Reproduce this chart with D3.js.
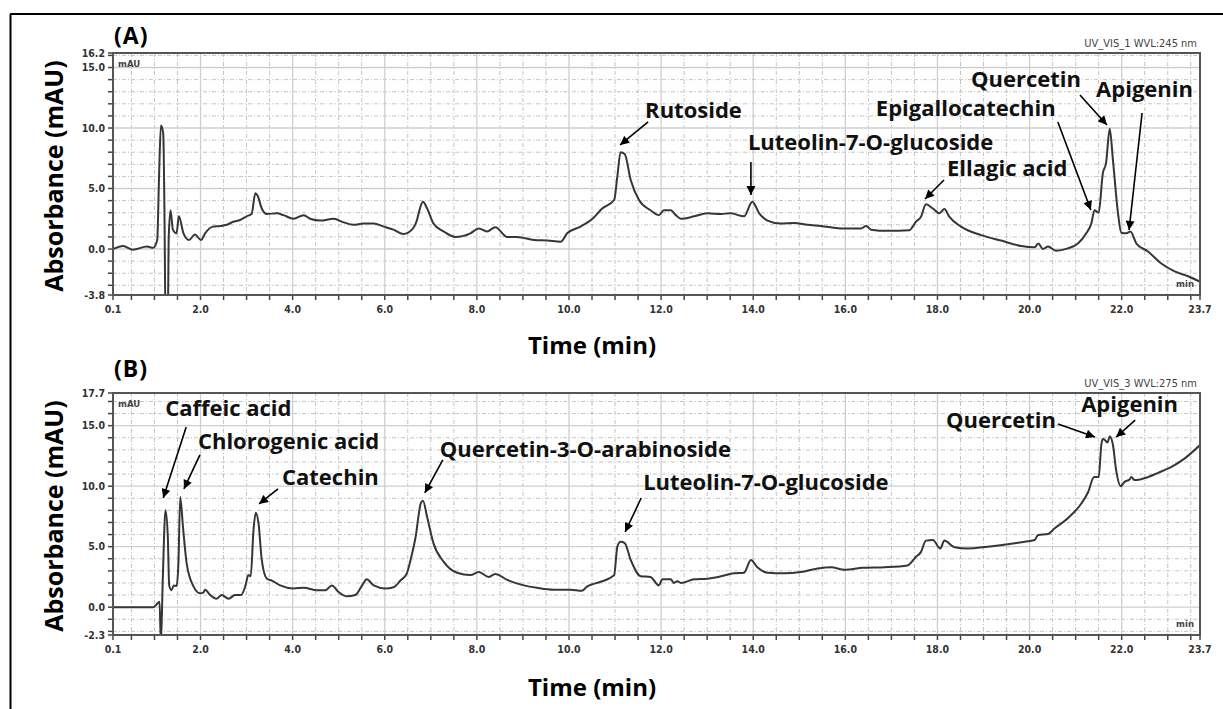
<!DOCTYPE html>
<html><head><meta charset="utf-8">
<script src="https://cdn.jsdelivr.net/npm/d3@7"></script>
<style>body{margin:0;background:#fff}svg{display:block}</style>
</head><body>
<svg id="chart" width="1223" height="709"></svg>
<script>
// ---------- DATA ----------
const timeA = [0.10,0.32,0.53,0.84,0.97,1.06,1.10,1.14,1.19,1.22,1.24,1.29,1.31,1.35,1.40,1.48,1.53,1.63,1.75,1.88,2.01,2.10,2.27,2.43,2.57,2.71,2.86,3.00,3.11,3.19,3.24,3.33,3.44,3.66,3.80,4.02,4.24,4.38,4.60,4.89,5.11,5.32,5.54,5.76,5.98,6.19,6.41,6.59,6.70,6.76,6.83,6.92,7.06,7.28,7.53,7.86,8.04,8.22,8.40,8.66,8.87,9.24,9.53,9.82,9.96,10.25,10.51,10.72,10.98,11.05,11.12,11.21,11.34,11.52,11.77,11.95,12.06,12.21,12.32,12.43,12.72,13.00,13.30,13.51,13.80,13.98,14.13,14.31,14.60,14.89,15.18,15.47,15.90,16.34,16.45,16.56,16.92,17.39,17.53,17.64,17.75,17.90,18.04,18.15,18.26,18.51,18.95,19.38,19.82,20.11,20.19,20.29,20.40,20.58,20.83,21.05,21.23,21.34,21.41,21.50,21.59,21.66,21.74,21.81,21.92,21.99,22.10,22.19,22.32,22.57,22.86,23.15,23.44,23.70];
const absA  = [0.0,0.25,-0.05,0.2,0.1,0.75,6.0,10.2,9.6,2.0,-6.0,-6.0,1.0,3.2,1.6,1.3,2.7,1.3,0.75,1.2,0.75,1.3,1.85,1.9,2.0,2.25,2.4,2.7,2.9,4.6,4.4,3.35,2.9,2.95,2.8,2.5,2.8,2.5,2.35,2.5,2.2,2.0,2.1,2.1,1.85,1.6,1.25,1.6,2.4,3.3,3.9,3.35,2.1,1.45,1.0,1.3,1.7,1.45,1.8,1.0,1.0,0.75,0.7,0.6,1.3,1.85,2.5,3.35,4.05,6.0,8.0,7.85,5.7,4.05,3.2,2.8,3.2,3.2,2.8,2.5,2.7,2.95,2.9,2.95,2.7,3.9,2.95,2.35,2.1,2.15,2.0,1.9,1.7,1.7,1.9,1.6,1.5,1.55,2.25,2.65,3.7,3.35,2.95,3.3,2.65,1.85,1.15,0.7,0.25,0.15,0.45,0.0,0.2,-0.15,0.05,0.45,1.3,2.1,3.2,3.0,6.25,7.1,9.95,7.35,2.95,1.35,1.3,1.45,0.45,-0.2,-1.2,-1.85,-2.25,-2.7];

const timeB = [0.10,0.98,1.05,1.11,1.14,1.18,1.24,1.29,1.32,1.37,1.42,1.48,1.52,1.56,1.62,1.70,1.85,1.99,2.06,2.10,2.21,2.35,2.46,2.61,2.75,2.88,2.97,3.04,3.09,3.15,3.20,3.26,3.33,3.44,3.55,3.73,4.02,4.24,4.53,4.71,4.85,5.00,5.18,5.36,5.51,5.61,5.76,6.01,6.19,6.34,6.48,6.56,6.67,6.78,6.83,6.92,7.06,7.28,7.57,7.86,8.04,8.26,8.40,8.66,9.02,9.31,9.67,10.03,10.28,10.39,10.69,10.98,11.05,11.12,11.21,11.34,11.56,11.77,11.95,12.03,12.21,12.28,12.35,12.43,12.72,13.00,13.30,13.58,13.80,13.95,14.09,14.31,14.67,15.03,15.40,15.69,15.98,16.38,16.85,17.35,17.53,17.64,17.75,17.90,18.06,18.15,18.37,18.66,19.09,19.53,19.96,20.11,20.18,20.40,20.54,20.83,21.12,21.27,21.40,21.50,21.56,21.59,21.64,21.69,21.74,21.81,21.88,21.98,22.06,22.17,22.21,22.28,22.57,22.79,23.08,23.37,23.70];
const absB  = [0.0,0.0,0.25,0.45,-3.0,2.2,8.0,5.8,1.8,1.4,1.8,1.75,3.6,9.1,6.6,3.6,1.7,1.15,1.2,1.45,1.0,0.7,1.0,0.7,1.0,1.0,1.7,2.65,2.55,6.35,7.8,6.9,3.9,2.35,2.2,1.8,1.55,1.6,1.4,1.4,1.8,1.25,0.9,1.0,1.8,2.3,1.8,1.55,1.65,2.2,2.8,3.9,5.8,8.55,8.8,7.45,5.25,3.75,2.85,2.65,2.9,2.5,2.75,2.25,1.8,1.6,1.45,1.45,1.35,1.7,2.1,2.65,5.0,5.4,5.3,3.9,2.55,2.5,1.8,2.3,2.3,2.0,2.15,2.0,2.3,2.35,2.55,2.8,2.85,3.9,3.3,2.85,2.8,2.9,3.2,3.3,3.1,3.25,3.3,3.45,4.15,4.55,5.5,5.55,4.85,5.5,4.95,4.85,5.0,5.2,5.45,5.55,5.95,6.05,6.5,7.35,8.55,9.5,10.75,10.75,13.5,13.9,13.8,13.6,14.1,13.4,11.3,10.0,10.35,10.55,10.75,10.5,10.75,11.1,11.6,12.3,13.4];

const xTickLabels = [0.1,2.0,4.0,6.0,8.0,10.0,12.0,14.0,16.0,18.0,20.0,22.0,23.7];
const yTicksA = [16.2,15.0,10.0,5.0,0.0,-3.8];
const yTicksB = [17.7,15.0,10.0,5.0,0.0,-2.3];

const panelTitles = ["(A)","(B)"];
const detectorLabels = ["UV_VIS_1 WVL:245 nm","UV_VIS_3 WVL:275 nm"];
const xTitle = "Time (min)";
const yTitle = "Absorbance (mAU)";

// annotated compounds: name, peak time, peak absorbance (arrow tip)
const namesA = ["Rutoside","Luteolin-7-O-glucoside","Ellagic acid","Epigallocatechin","Quercetin","Apigenin"];
const tipTimeA = [11.11,13.95,17.73,21.33,21.68,22.16];
const tipAbsA  = [8.6,4.46,4.13,3.22,10.25,1.57];
const namesB = ["Caffeic acid","Chlorogenic acid","Catechin","Quercetin-3-O-arabinoside","Luteolin-7-O-glucoside","Quercetin","Apigenin"];
const tipTimeB = [1.19,1.64,3.27,6.87,11.22,21.42,21.88];
const tipAbsB  = [9.02,9.77,8.53,9.44,6.21,14.06,14.06];

// ---------- LAYOUT (pixel offsets of arrow tails and labels from the tips) ----------
const layoutA = [
  {tail:[28,-23], label:[25,-27]},
  {tail:[0,-33],  label:[-3,-45]},
  {tail:[19,-19], label:[22,-23]},
  {tail:[-33,-88],label:[-215,-94]},
  {tail:[-27,-30],label:[-136,-38]},
  {tail:[13,-117],label:[-33,-133]}
];
const layoutB = [
  {tail:[23,-71], label:[2,-82]},
  {tail:[16,-34], label:[14,-40]},
  {tail:[19,-15], label:[23,-19]},
  {tail:[18,-33], label:[15,-36]},
  {tail:[16,-34], label:[18,-42]},
  {tail:[-37,-13],label:[-149,-9]},
  {tail:[19,-17], label:[-35,-25]}
];

const panels = [
  {t:timeA, v:absA, yTicks:yTicksA, top:53, bottom:295, titleY:44, xTitleY:354,
   names:namesA, tt:tipTimeA, tv:tipAbsA, lay:layoutA, det:detectorLabels[0], title:panelTitles[0]},
  {t:timeB, v:absB, yTicks:yTicksB, top:393, bottom:635, titleY:377, xTitleY:696,
   names:namesB, tt:tipTimeB, tv:tipAbsB, lay:layoutB, det:detectorLabels[1], title:panelTitles[1]}
];

const svg = d3.select("#chart");
svg.append("rect").attr("width",1223).attr("height",709).attr("fill","#fff");
// outer frame (left & top)
svg.append("line").attr("x1",10.5).attr("x2",10.5).attr("y1",14).attr("y2",709).attr("stroke","#000").attr("stroke-width",2);
svg.append("line").attr("x1",10).attr("x2",1223).attr("y1",14).attr("y2",14).attr("stroke","#000").attr("stroke-width",2);

const defs = svg.append("defs");
defs.append("marker").attr("id","ah").attr("markerUnits","userSpaceOnUse")
  .attr("viewBox","0 0 10 10").attr("refX",10).attr("refY",5)
  .attr("markerWidth",11).attr("markerHeight",9).attr("orient","auto")
  .append("path").attr("d","M0,0L10,5L0,10z").attr("fill","#000");

const left = 113, right = 1200;
const tickFont = "'Liberation Sans Narrow','DejaVu Sans Condensed','Liberation Sans',sans-serif";
const labFont = "'Open Sans',sans-serif";

panels.forEach((p,i) => {
  const x = d3.scaleLinear().domain([0.1,23.7]).range([left,right]);
  const y = d3.scaleLinear().domain([p.yTicks[p.yTicks.length-1], p.yTicks[0]]).range([p.bottom,p.top]);
  const g = svg.append("g");
  const [ymin,ymax] = y.domain();

  // minor dotted grid
  const hMinor = d3.range(Math.ceil(ymin), Math.floor(ymax)+1, 1).filter(v => v%5!==0);
  g.selectAll(".hm").data(hMinor).join("line")
    .attr("x1",left).attr("x2",right).attr("y1",d=>y(d)).attr("y2",d=>y(d))
    .attr("stroke","#c4c4c4").attr("stroke-width",1).attr("stroke-dasharray","4,2,1,2");
  const vMinor = d3.range(0.5,23.7,0.5).filter(v => v%2!==0);
  g.selectAll(".vm").data(vMinor).join("line")
    .attr("y1",p.top).attr("y2",p.bottom).attr("x1",d=>x(d)).attr("x2",d=>x(d))
    .attr("stroke","#c4c4c4").attr("stroke-width",1).attr("stroke-dasharray","4,2,1,2");
  // major solid grid
  const hMajor = d3.range(Math.ceil(ymin/5)*5, ymax, 5);
  g.selectAll(".hM").data(hMajor).join("line")
    .attr("x1",left).attr("x2",right).attr("y1",d=>y(d)).attr("y2",d=>y(d))
    .attr("stroke","#cfcfcf").attr("stroke-width",1.3);
  const vMajor = d3.range(2,23.7,2);
  g.selectAll(".vM").data(vMajor).join("line")
    .attr("y1",p.top).attr("y2",p.bottom).attr("x1",d=>x(d)).attr("x2",d=>x(d))
    .attr("stroke","#cfcfcf").attr("stroke-width",1.3);

  // ticks
  const yTickVals = d3.range(Math.ceil(ymin), Math.floor(ymax)+1, 1).concat([ymin,ymax]);
  g.selectAll(".yt").data(yTickVals).join("line")
    .attr("x1",left-5).attr("x2",left).attr("y1",d=>y(d)).attr("y2",d=>y(d))
    .attr("stroke","#444").attr("stroke-width",1.5);
  const xTickVals = d3.range(0.5,23.7,0.5).concat([0.1,23.7]);
  g.selectAll(".xt").data(xTickVals).join("line")
    .attr("y1",p.bottom).attr("y2",p.bottom+5).attr("x1",d=>x(d)).attr("x2",d=>x(d))
    .attr("stroke","#444").attr("stroke-width",1.5);

  // tick labels
  g.selectAll(".yl").data(p.yTicks).join("text")
    .attr("x",left-8).attr("y",d=>y(d)).attr("dy","0.35em").attr("text-anchor","end")
    .attr("font-family",tickFont).attr("font-weight","bold").attr("font-size",10.5).attr("fill","#333")
    .text(d=>d.toFixed(1));
  g.selectAll(".xl").data(xTickLabels).join("text")
    .attr("x",d=>x(d)).attr("y",p.bottom+18).attr("text-anchor","middle")
    .attr("font-family",tickFont).attr("font-weight","bold").attr("font-size",10.5).attr("fill","#333")
    .text(d=>d.toFixed(1));

  // trace
  const cid = "clip"+i;
  defs.append("clipPath").attr("id",cid).append("rect")
    .attr("x",left).attr("y",p.top).attr("width",right-left).attr("height",p.bottom-p.top);
  const line = d3.line().curve(d3.curveMonotoneX).x(d=>x(d[0])).y(d=>y(d[1]));
  g.append("path").datum(d3.zip(p.t,p.v)).attr("d",line).attr("clip-path",`url(#${cid})`)
    .attr("fill","none").attr("stroke","#363636").attr("stroke-width",2).attr("stroke-linejoin","round");

  // plot frame
  g.append("rect").attr("x",left).attr("y",p.top).attr("width",right-left).attr("height",p.bottom-p.top)
    .attr("fill","none").attr("stroke","#555").attr("stroke-width",2);

  // small labels
  g.append("text").attr("x",left+5).attr("y",p.top+14).attr("font-family",tickFont).attr("font-weight","bold")
    .attr("font-size",9.5).attr("fill","#444").text("mAU");
  g.append("text").attr("x",right-6).attr("y",p.bottom-8).attr("text-anchor","end").attr("font-family",tickFont)
    .attr("font-weight","bold").attr("font-size",9.5).attr("fill","#444").text("min");
  g.append("text").attr("x",right-3).attr("y",p.top-6).attr("text-anchor","end").attr("font-family",tickFont)
    .attr("font-size",11).attr("fill","#444").text(p.det);

  // titles
  g.append("text").attr("x",left+1).attr("y",p.titleY).attr("font-family",labFont).attr("font-weight","bold")
    .attr("font-size",23).attr("letter-spacing",1).attr("fill","#000").text(p.title);
  g.append("text").attr("transform",`translate(63,${(p.top+p.bottom)/2+2}) rotate(-90)`).attr("text-anchor","middle")
    .attr("font-family",labFont).attr("font-weight","bold").attr("font-size",25).attr("fill","#000").text(yTitle);
  g.append("text").attr("x",592).attr("y",p.xTitleY).attr("text-anchor","middle")
    .attr("font-family",labFont).attr("font-weight","bold").attr("font-size",24).attr("fill","#000").text(xTitle);

  // annotations
  p.names.forEach((n,k) => {
    const tx = x(p.tt[k]), ty = y(p.tv[k]);
    const L = p.lay[k];
    g.append("line").attr("x1",tx+L.tail[0]).attr("y1",ty+L.tail[1]).attr("x2",tx).attr("y2",ty)
      .attr("stroke","#000").attr("stroke-width",1.6).attr("marker-end","url(#ah)");
    g.append("text").attr("x",tx+L.label[0]).attr("y",ty+L.label[1])
      .attr("font-family",labFont).attr("font-weight","bold").attr("font-size",22).attr("fill","#111").text(n);
  });
});
</script>
</body></html>
